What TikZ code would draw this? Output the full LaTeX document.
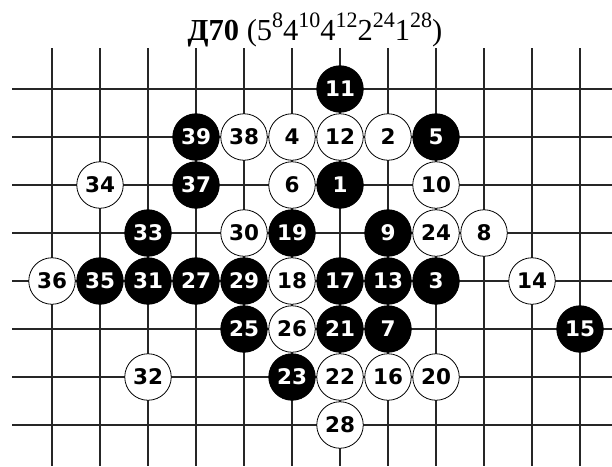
\documentclass[tikz,border=0pt]{standalone}
\usepackage{fontspec}
\setmainfont{Liberation Serif}
\newfontfamily\stonefont{DejaVu Sans}
\usepackage{xcolor}

% raised exponent in the title
\newcommand\pwr[1]{\raisebox{13pt}{\fontsize{22}{22}\selectfont #1}}

\begin{document}
\begin{tikzpicture}[x=1pt,y=-1pt,
	gridline/.style={line width=1.5pt, black!85},
	bstone/.style={circle, draw, fill=black, text=white, minimum size=46.5pt, inner sep=0pt, line width=0.8pt,
		font=\stonefont\bfseries\fontsize{21.5}{21.5}\selectfont},
	wstone/.style={bstone, fill=white, text=black}]
	
	% last column / last row of the board
	\def\nc{11}
	\def\nr{7}
	
	\useasboundingbox (0,0) rectangle (612,466);
	
	% --- Title ---
	\node[anchor=base, inner sep=0pt] (title) at (315,40.7)
	{\fontsize{30.5}{30.5}\selectfont\textbf{Д70} (5\pwr{8}4\pwr{10}4\pwr{12}2\pwr{24}1\pwr{28})};
	
	% --- Board lines ---
	\foreach \c in {0,...,\nc} {
		\draw[gridline] ({52+48*\c},48) -- ({52+48*\c},466);
	}
	\foreach \r in {0,...,\nr} {
		\draw[gridline] (12,{89+48*\r}) -- (612,{89+48*\r});
	}
	
	% --- Black stones (number/column/row) ---
	\foreach \n/\c/\r in {11/6/0, 39/3/1, 5/8/1, 37/3/2, 1/6/2, 33/2/3, 19/5/3, 9/7/3,
		35/1/4, 31/2/4, 27/3/4, 29/4/4, 17/6/4, 13/7/4, 3/8/4,
		25/4/5, 21/6/5, 7/7/5, 15/11/5, 23/5/6} {
		\node[bstone] (s\n) at ({52+48*\c},{89+48*\r}) {\n};
	}
	
	% --- White stones ---
	\foreach \n/\c/\r in {38/4/1, 4/5/1, 12/6/1, 2/7/1, 34/1/2, 6/5/2, 10/8/2,
		30/4/3, 24/8/3, 8/9/3, 36/0/4, 18/5/4, 14/10/4, 26/5/5,
		32/2/6, 22/6/6, 16/7/6, 20/8/6, 28/6/7} {
		\node[wstone] (s\n) at ({52+48*\c},{89+48*\r}) {\n};
	}
	
\end{tikzpicture}
\end{document}
